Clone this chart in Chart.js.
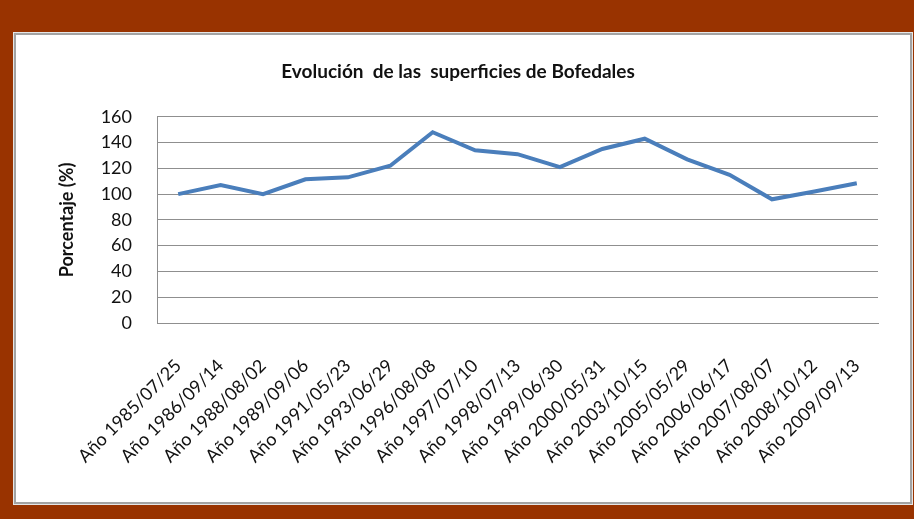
<!DOCTYPE html>
<html>
<head>
<meta charset="utf-8">
<script src="https://cdn.jsdelivr.net/npm/chart.js@4"></script>
<style>
  html, body { margin: 0; padding: 0; }
  body { width: 914px; height: 519px; background: #993300; position: relative; overflow: hidden; }
  .frame {
    position: absolute; left: 13px; top: 32px; width: 900px; height: 473px;
    box-sizing: border-box; background: #fff;
    border: 1px solid #e6e6e6; box-shadow: inset 0 0 0 2px #a3a3a3;
  }
  #chart { position: absolute; left: 0; top: 0; }
</style>
</head>
<body>
<div class="frame"></div>
<canvas id="chart" width="914" height="519"></canvas>
<script>
// Evolución de las superficies de Bofedales
const labels = [
  'Año 1985/07/25', 'Año 1986/09/14', 'Año 1988/08/02', 'Año 1989/09/06',
  'Año 1991/05/23', 'Año 1993/06/29', 'Año 1996/08/08', 'Año 1997/07/10',
  'Año 1998/07/13', 'Año 1999/06/30', 'Año 2000/05/31', 'Año 2003/10/15',
  'Año 2005/05/29', 'Año 2006/06/17', 'Año 2007/08/07', 'Año 2008/10/12',
  'Año 2009/09/13',
];
const porcentaje = [100, 107, 100, 111.5, 113, 122, 148, 134, 131, 121, 135, 143, 127, 115, 96, 102, 108.5];
const yMin = 0;
const yMax = 160;
const yStep = 20;

const FONT = 'Lato, "Open Sans", sans-serif';
const GRID = '#8f8f8f';

new Chart(document.getElementById('chart'), {
  type: 'line',
  data: {
    labels,
    datasets: [{
      label: 'Porcentaje',
      data: porcentaje,
      borderColor: '#4a7ebb',
      borderWidth: 4,
      pointRadius: 0,
      tension: 0,
      fill: false,
    }],
  },
  options: {
    responsive: false,
    animation: false,
    layout: { padding: { top: 40, right: 36, bottom: 0, left: 38 } },
    plugins: {
      legend: { display: false },
      tooltip: { enabled: false },
      title: {
        display: true,
        text: 'Evolución  de las  superficies de Bofedales',
        color: '#111',
        font: { family: FONT, size: 19, weight: 'bold' },
        padding: { top: 20, bottom: 34 },
      },
    },
    scales: {
      x: {
        offset: true,
        grid: { display: false },
        border: { display: true, color: GRID, width: 1 },
        ticks: {
          autoSkip: false,
          minRotation: 45,
          maxRotation: 45,
          padding: 24,
          color: '#111',
          font: { family: FONT, size: 18 },
        },
        afterFit: (scale) => { scale.height = 196; },
      },
      y: {
        min: yMin,
        max: yMax,
        grid: { color: GRID, lineWidth: 1, drawTicks: false },
        border: { display: true, color: GRID, width: 1 },
        ticks: {
          stepSize: yStep,
          padding: 25,
          color: '#111',
          font: { family: FONT, size: 18 },
        },
        title: {
          display: true,
          text: 'Porcentaje (%)',
          color: '#111',
          font: { family: FONT, size: 18, weight: 'bold' },
          padding: { top: 18 },
        },
        afterFit: (scale) => { scale.width = 119; },
      },
    },
  },
});
</script>
</body>
</html>
